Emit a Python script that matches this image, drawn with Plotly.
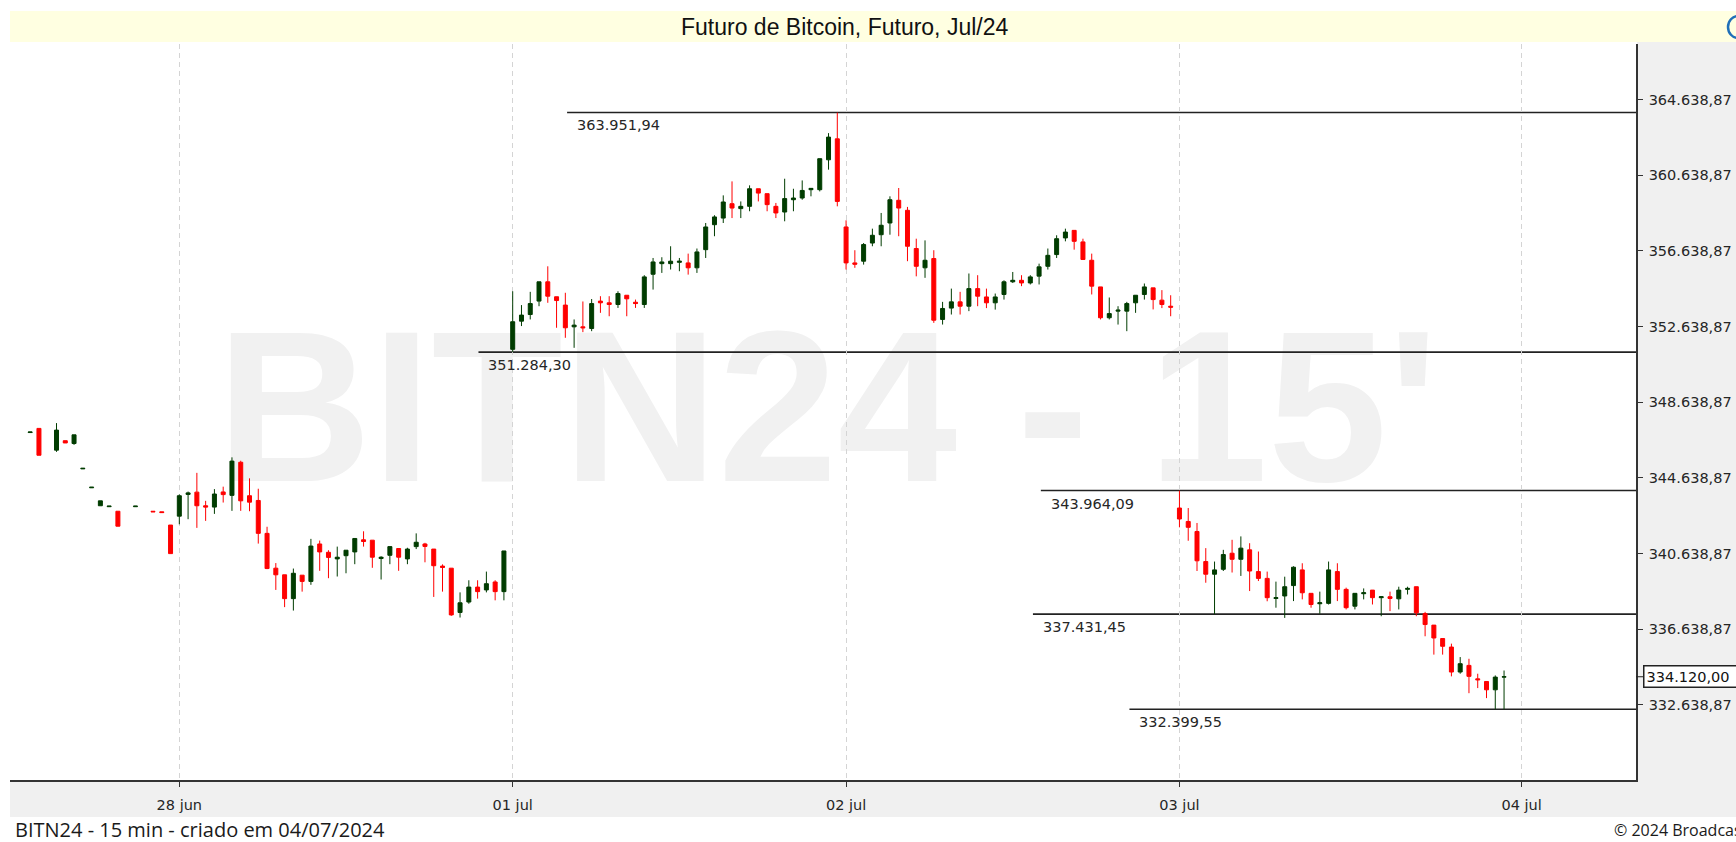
import plotly.graph_objects as go

# ---------------- data (15-min bars, slot index: 0 = first bar of 28 jun) ----------------
jun27_slot = [-17, -16, -14, -13, -12, -11, -10, -9, -8, -7, -5, -3, -2, -1]
jun27_open = [347030, 347250, 346100, 346600, 346450, 345110, 344110, 343160, 343110, 342870, 343110, 342870, 342840, 342140]
jun27_high = [347060, 347250, 347530, 346600, 346910, 345140, 344140, 343420, 343140, 342870, 343140, 342870, 342840, 342140]
jun27_low = [347030, 345830, 346010, 346480, 346380, 345110, 344110, 343160, 343110, 342080, 343110, 342840, 342800, 340630]
jun27_close = [347060, 345830, 347160, 346480, 346910, 345140, 344140, 343420, 343140, 342080, 343140, 342840, 342800, 340630]

jun28_open = [342610, 343760, 343880, 343160, 343090, 343890, 343710, 345460, 343690, 343440, 341700, 339860, 339510, 338250, 339490, 339160, 341140, 340700, 340350, 340520, 340720, 341360, 341340, 340370, 340540, 340900, 340350, 341000, 341140, 340870, 339970, 339860, 337520, 338070, 338860, 338710, 339130, 338620]
jun28_high = [343760, 343910, 344900, 343420, 344040, 344170, 345720, 345540, 344610, 344060, 342050, 340130, 339510, 339840, 339490, 341410, 341320, 340810, 341000, 340810, 341430, 341810, 341340, 340490, 341000, 340900, 340940, 341700, 341200, 340870, 340060, 339860, 338580, 339220, 339220, 339680, 339220, 340770]
jun28_low = [342180, 342450, 341990, 342360, 342730, 343330, 342890, 342890, 342870, 341160, 339810, 338710, 337800, 337620, 338620, 338980, 339720, 339330, 339420, 339590, 340070, 341000, 339880, 339260, 340070, 339720, 340070, 340870, 340170, 338340, 338620, 337340, 337250, 337980, 338250, 338580, 338160, 338160]
jun28_close = [343690, 343840, 343160, 343090, 343780, 343750, 345520, 343420, 343350, 341700, 339840, 339510, 338250, 339590, 339160, 341030, 340720, 340430, 340440, 340810, 341430, 341270, 340440, 340440, 341000, 340440, 340870, 341230, 341010, 339990, 339900, 337390, 338030, 338860, 338620, 339040, 338620, 340770]

jul01_open = [351430, 352920, 353270, 353980, 355000, 354210, 353770, 352620, 352620, 352530, 353980, 353890, 353800, 354290, 353920, 353800, 355400, 355960, 355960, 356030, 356000, 355740, 356700, 358020, 358370, 359130, 358870, 358990, 359920, 359660, 358990, 358690, 359340, 359430, 359870, 359870, 361450, 362560]
jul01_high = [354500, 353770, 354470, 355000, 355820, 354210, 354420, 353010, 353960, 354090, 354240, 354240, 354500, 354290, 354060, 355350, 356260, 356300, 356880, 356260, 356490, 356760, 358110, 358520, 359570, 360310, 359250, 360100, 359920, 359660, 359170, 360450, 359920, 360360, 359940, 361510, 362860, 363950]
jul01_low = [351280, 352660, 353010, 353710, 353890, 352570, 352040, 351510, 352340, 352390, 353360, 353180, 353620, 353180, 353620, 353620, 354590, 355470, 355650, 355560, 355380, 355470, 356260, 357410, 358110, 358370, 358370, 358730, 359250, 358730, 358370, 358200, 358730, 359340, 359520, 359780, 360930, 358990]
jul01_close = [352890, 353240, 353850, 355000, 354240, 354010, 352570, 352710, 352570, 353850, 353890, 353800, 354380, 354100, 353850, 355260, 356050, 356050, 356090, 356090, 355740, 356580, 357900, 358430, 359220, 358900, 358990, 359920, 359690, 359080, 358640, 359400, 359430, 359830, 359940, 361510, 362650, 359250]

jul02_open = [357900, 356000, 356090, 357050, 357490, 358110, 359310, 358780, 356760, 355740, 356230, 353010, 353610, 353940, 353710, 354640, 354200, 353890, 354330, 355000, 355080, 354940, 355300, 355820, 356440, 357320, 357720, 357110, 356140, 354730, 353100, 353450, 353450, 353890, 354330, 354680, 354030, 353710]
jul02_high = [358250, 356670, 357050, 357810, 358640, 359520, 359960, 358960, 357280, 357190, 356670, 353940, 354640, 354470, 355440, 355350, 354640, 354380, 355080, 355520, 355350, 355350, 355960, 356760, 357460, 357810, 357720, 357280, 356490, 354730, 354170, 353710, 353940, 354290, 354910, 354680, 354560, 354290]
jul02_low = [355650, 355740, 355910, 356880, 356880, 357490, 357410, 356090, 355290, 355210, 352830, 352740, 353270, 353270, 353450, 353710, 353610, 353530, 354060, 354940, 354770, 354860, 354860, 355650, 356260, 357140, 356700, 356180, 354330, 353010, 353010, 352740, 352390, 353360, 354060, 353540, 353610, 353180]
jul02_close = [356000, 355930, 356970, 357460, 357990, 359340, 358900, 356880, 355820, 356140, 352970, 353590, 353940, 353710, 354640, 354240, 353890, 354200, 355000, 355080, 354940, 355260, 355790, 356400, 357280, 357630, 357140, 356180, 354770, 353100, 353320, 353500, 353850, 354290, 354730, 354060, 353800, 353660]

jul03_open = [343040, 342330, 341800, 340210, 339540, 339800, 340650, 340330, 340830, 339680, 339320, 338260, 338390, 338940, 339770, 338530, 337980, 338000, 339680, 338740, 337850, 338510, 338700, 338300, 338350, 338240, 338740, 338880, 337460, 336850, 336140, 335690, 334370, 334720, 334010, 333870, 333430, 334100]
jul03_high = [343960, 343040, 342250, 340920, 340210, 340830, 341360, 341540, 341180, 340740, 339680, 339150, 339410, 339960, 340120, 338530, 338620, 340210, 340120, 338830, 338530, 338790, 338700, 338350, 338620, 338880, 338880, 338880, 337550, 336850, 336140, 335870, 335160, 335070, 334280, 333870, 334190, 334450]
jul03_low = [342020, 341310, 339710, 339090, 337430, 339710, 339630, 339450, 338650, 339180, 338110, 337770, 337230, 338120, 338210, 337770, 337450, 337940, 338120, 337680, 337680, 338210, 337940, 337320, 337590, 337680, 338470, 337320, 336260, 335290, 335290, 334140, 334280, 333250, 333520, 332990, 332400, 332400]
jul03_close = [342460, 342020, 340250, 339540, 339770, 340580, 340330, 340920, 339710, 339320, 338300, 338300, 338880, 339910, 338560, 337940, 338030, 339770, 338740, 337770, 338530, 338560, 338300, 338350, 338260, 338700, 338790, 337500, 336880, 336170, 335730, 334370, 334810, 334140, 333960, 333430, 334100, 334120]

bars_per_session = 38
day_labels = ["28 jun", "01 jul", "02 jul", "03 jul", "04 jul"]
day_first_slot = [0, 38, 76, 114, 153]

level_values = [363951.94, 351284.30, 343964.09, 337431.45, 332399.55]
level_from_slot = [44.2, 34.1, 98.2, 97.3, 108.3]

y_tick_values = [332638.87, 336638.87, 340638.87, 344638.87, 348638.87, 352638.87, 356638.87, 360638.87, 364638.87]
last_price = 334120.00

title_text = "Futuro de Bitcoin, Futuro, Jul/24"
footer_left = "BITN24 - 15 min - criado em 04/07/2024"
footer_right = "© 2024 Broadcast"
watermark = "BITN24 - 15'"

# ---------------- assemble ----------------
sessions = [
    (jun28_open, jun28_high, jun28_low, jun28_close),
    (jul01_open, jul01_high, jul01_low, jul01_close),
    (jul02_open, jul02_high, jul02_low, jul02_close),
    (jul03_open, jul03_high, jul03_low, jul03_close),
]
slots = list(jun27_slot)
o, h, l, c = list(jun27_open), list(jun27_high), list(jun27_low), list(jun27_close)
for k, (so, sh, sl, sc) in enumerate(sessions):
    assert len(so) == len(sh) == len(sl) == len(sc) == bars_per_session
    slots += [k * bars_per_session + j for j in range(len(so))]
    o += so; h += sh; l += sl; c += sc

# ---------------- geometry helpers (pixels -> paper) ----------------
W, H = 1736, 842
PL, PR, PT, PB = 10, 1636, 44, 780
def px_x(p):
    return (p - PL) / (PR - PL)
def px_y(q):
    return (PB - q) / (PB - PT)

def br(v):
    s = f"{v:,.2f}"
    return s.replace(",", "X").replace(".", ",").replace("X", ".")

X_RANGE = [-19.3, 166.04]
Y_RANGE = [328661, 367573]

GREEN = "#003C00"
RED = "#FF0000"
AXIS = "#333333"
TICKFONT = dict(family="DejaVu Sans", size=14.5, color="#262626")

fig = go.Figure(go.Candlestick(
    x=slots, open=o, high=h, low=l, close=c,
    increasing=dict(line=dict(color=GREEN, width=1), fillcolor=GREEN),
    decreasing=dict(line=dict(color=RED, width=1), fillcolor=RED),
    whiskerwidth=0, hoverinfo="skip", showlegend=False,
))

shapes = [
    # title bar
    dict(type="rect", xref="paper", yref="paper", x0=px_x(10), x1=px_x(1736), y0=px_y(42), y1=px_y(11),
         fillcolor="#FFFFE1", line=dict(width=0), layer="below"),
    # right axis panel
    dict(type="rect", xref="paper", yref="paper", x0=px_x(1637), x1=px_x(1736), y0=px_y(817), y1=px_y(42),
         fillcolor="#F0F0F0", line=dict(width=0), layer="below"),
    # bottom axis panel
    dict(type="rect", xref="paper", yref="paper", x0=px_x(10), x1=px_x(1637), y0=px_y(817), y1=px_y(781),
         fillcolor="#F0F0F0", line=dict(width=0), layer="below"),
    # watermark
    dict(type="rect", xref="paper", yref="paper", x0=px_x(227), x1=px_x(1428), y0=px_y(465), y1=px_y(307),
         fillcolor="rgba(0,0,0,0)", line=dict(width=0), layer="below",
         label=dict(text=watermark, textposition="middle center",
                    font=dict(family="Liberation Sans", size=215, color="#F1F1F1", weight="bold"))),
]
annotations = []
for val, start in zip(level_values, level_from_slot):
    shapes.append(dict(type="line", xref="x", yref="y", x0=start, x1=X_RANGE[1], y0=val, y1=val,
                       line=dict(color="#222222", width=1.6), layer="below"))
    annotations.append(dict(x=start, y=val, xref="x", yref="y", text=br(val), showarrow=False,
                            xanchor="left", yanchor="top", xshift=8, yshift=-3,
                            font=dict(family="DejaVu Sans", size=14.5, color="#262626")))

# last price box
shapes.append(dict(type="line", xref="paper", yref="y", x0=1, x1=px_x(1643), y0=last_price, y1=last_price,
                   line=dict(color="#222222", width=1)))
annotations.append(dict(x=1, y=last_price, xref="paper", yref="y", text=br(last_price), showarrow=False,
                        xanchor="left", yanchor="middle", xshift=7, width=100, align="left",
                        font=dict(family="DejaVu Sans", size=14.5, color="#111111"),
                        bgcolor="#FFFFFF", bordercolor="#222222", borderwidth=1.5, borderpad=2))
# blue icon (cut off at right edge)
shapes.append(dict(type="circle", xref="paper", yref="paper", x0=px_x(1728), x1=px_x(1748),
                   y0=px_y(38), y1=px_y(16), line=dict(color="#1F6FB8", width=2.5)))

annotations += [
    dict(x=px_x(844), y=px_y(27), xref="paper", yref="paper", text=title_text, showarrow=False,
         xanchor="center", yanchor="middle", font=dict(family="Liberation Sans", size=23, color="#111111")),
    dict(x=px_x(13), y=px_y(830), xref="paper", yref="paper", text=footer_left, showarrow=False,
         xanchor="left", yanchor="middle", font=dict(family="Open Sans", size=20, color="#1a1a1a")),
    dict(x=px_x(1612), y=px_y(830), xref="paper", yref="paper", text=footer_right, showarrow=False,
         xanchor="left", yanchor="middle", font=dict(family="Open Sans", size=16, color="#1a1a1a")),
]

fig.update_layout(
    width=W, height=H,
    margin=dict(l=PL, r=W - PR, t=PT, b=H - PB, pad=0, autoexpand=False),
    paper_bgcolor="#FFFFFF", plot_bgcolor="#FFFFFF",
    showlegend=False, boxgap=0.35,
    shapes=shapes, annotations=annotations,
    xaxis=dict(range=X_RANGE, tickvals=day_first_slot, ticktext=day_labels,
               showgrid=True, gridcolor="#D4D4D4", gridwidth=1, griddash="5px,4px",
               ticks="outside", ticklen=5, tickcolor=AXIS, tickfont=TICKFONT,
               showline=True, linecolor=AXIS, linewidth=2, zeroline=False, automargin=False,
               rangeslider=dict(visible=False), fixedrange=True, ticklabelstandoff=6),
    yaxis=dict(range=Y_RANGE, side="right", tickvals=y_tick_values,
               ticktext=[br(v) for v in y_tick_values],
               showgrid=False, zeroline=False, ticks="outside", ticklen=5, tickcolor=AXIS,
               tickfont=TICKFONT, showline=True, linecolor=AXIS, linewidth=1.5, automargin=False,
               fixedrange=True, ticklabelstandoff=3),
)

fig.write_html("out.html", config={"displayModeBar": False},
               post_script="document.body.style.margin='0';document.body.style.overflow='hidden';")
